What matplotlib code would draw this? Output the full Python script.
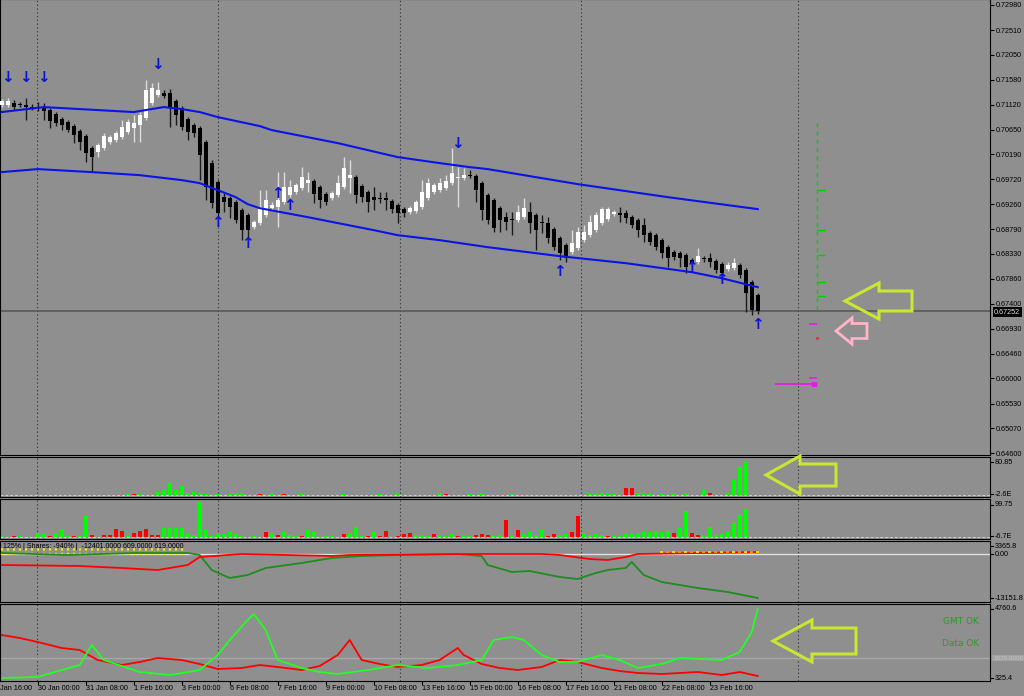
import numpy as np
import matplotlib
matplotlib.use('Agg')
import matplotlib.pyplot as plt
import matplotlib.transforms as mtransforms
from matplotlib.patches import Polygon

plt.rcParams['font.family'] = ['Liberation Sans', 'DejaVu Sans']

W, H = 1024, 696
BG = '#8f8f8f'

# ---- candles (AUDUSD-like, H4) ----
opens = [0.71110, 0.71110, 0.71147, 0.71128, 0.71110, 0.71072, 0.71072, 0.71053, 0.71016, 0.70941,
         0.70848, 0.70792, 0.70717, 0.70623, 0.70530, 0.70305, 0.70231, 0.70305, 0.70418, 0.70455,
         0.70511, 0.70605, 0.70679, 0.70735, 0.70866, 0.71147, 0.71297, 0.71334, 0.71334, 0.71184,
         0.71053, 0.70848, 0.70735, 0.70679, 0.70418, 0.70025, 0.69670, 0.69389, 0.69370, 0.69296,
         0.69146, 0.69052, 0.68828, 0.68903, 0.69052, 0.69183, 0.69202, 0.69296, 0.69426, 0.69483,
         0.69557, 0.69651, 0.69688, 0.69576, 0.69445, 0.69370, 0.69426, 0.69576, 0.69744, 0.69763,
         0.69595, 0.69483, 0.69389, 0.69370, 0.69370, 0.69314, 0.69239, 0.69165, 0.69109, 0.69127,
         0.69202, 0.69370, 0.69483, 0.69520, 0.69557, 0.69651, 0.69744, 0.69744, 0.69800, 0.69782,
         0.69651, 0.69426, 0.69333, 0.69183, 0.69015, 0.68978, 0.68959, 0.69015, 0.69109, 0.69052,
         0.68922, 0.68903, 0.68791, 0.68622, 0.68491, 0.68361, 0.68435, 0.68585, 0.68678, 0.68772,
         0.68903, 0.68978, 0.69071, 0.69090, 0.69090, 0.69015, 0.68959, 0.68865, 0.68716, 0.68678,
         0.68585, 0.68454, 0.68361, 0.68342, 0.68304, 0.68211, 0.68174, 0.68248, 0.68248, 0.68192,
         0.68136, 0.68043, 0.68061, 0.68118, 0.68024, 0.67799, 0.67556]
highs = [0.71222, 0.71240, 0.71203, 0.71166, 0.71240, 0.71128, 0.71166, 0.71147, 0.71053, 0.70979,
         0.70885, 0.70829, 0.70754, 0.70661, 0.70567, 0.70343, 0.70399, 0.70586, 0.70548, 0.70623,
         0.70829, 0.70848, 0.70922, 0.70979, 0.71577, 0.71521, 0.71539, 0.71390, 0.71409, 0.71222,
         0.71091, 0.70885, 0.70773, 0.70717, 0.70455, 0.70081, 0.69707, 0.69464, 0.69408, 0.69333,
         0.69183, 0.69090, 0.68959, 0.69520, 0.69520, 0.69296, 0.69857, 0.69857, 0.69707, 0.69651,
         0.69950, 0.69857, 0.69726, 0.69613, 0.69483, 0.69501, 0.69800, 0.70137, 0.70081, 0.69800,
         0.69632, 0.69520, 0.69576, 0.69483, 0.69483, 0.69352, 0.69277, 0.69202, 0.69221, 0.69333,
         0.69707, 0.69744, 0.69651, 0.69744, 0.69800, 0.70305, 0.69950, 0.69931, 0.69894, 0.69819,
         0.69688, 0.69464, 0.69370, 0.69221, 0.69109, 0.69109, 0.69239, 0.69370, 0.69296, 0.69090,
         0.69052, 0.69015, 0.68828, 0.68660, 0.68529, 0.68772, 0.68828, 0.68865, 0.69052, 0.69109,
         0.69202, 0.69202, 0.69146, 0.69202, 0.69146, 0.69052, 0.68996, 0.68996, 0.68753, 0.68716,
         0.68622, 0.68491, 0.68398, 0.68379, 0.68342, 0.68248, 0.68435, 0.68286, 0.68342, 0.68230,
         0.68174, 0.68174, 0.68248, 0.68155, 0.68061, 0.67837, 0.67594]
lows = [0.71072, 0.71072, 0.71016, 0.71072, 0.70829, 0.71016, 0.70997, 0.70829, 0.70679, 0.70717,
        0.70642, 0.70605, 0.70399, 0.70268, 0.70044, 0.69857, 0.70137, 0.70268, 0.70380, 0.70418,
        0.70474, 0.70567, 0.70418, 0.70418, 0.70829, 0.71110, 0.71260, 0.71240, 0.70698, 0.70735,
        0.70642, 0.70455, 0.70511, 0.69707, 0.69333, 0.69183, 0.69034, 0.69109, 0.68996, 0.68903,
        0.68585, 0.68622, 0.68791, 0.68865, 0.69015, 0.69146, 0.68828, 0.69258, 0.69389, 0.69445,
        0.69520, 0.69483, 0.69277, 0.69183, 0.69239, 0.69333, 0.69389, 0.69539, 0.69464, 0.69277,
        0.69296, 0.69109, 0.69146, 0.69277, 0.69146, 0.69090, 0.68903, 0.69015, 0.69071, 0.69090,
        0.69165, 0.69333, 0.69445, 0.69483, 0.69520, 0.69613, 0.69202, 0.69707, 0.69744, 0.69296,
        0.68959, 0.68884, 0.68735, 0.68735, 0.68772, 0.68678, 0.68922, 0.68978, 0.68716, 0.68398,
        0.68716, 0.68529, 0.68398, 0.68211, 0.68174, 0.68323, 0.68398, 0.68548, 0.68641, 0.68735,
        0.68865, 0.68940, 0.69034, 0.68922, 0.68903, 0.68809, 0.68641, 0.68548, 0.68491, 0.68398,
        0.68248, 0.68080, 0.68211, 0.68080, 0.67968, 0.68099, 0.68136, 0.68174, 0.68080, 0.67968,
        0.67837, 0.68005, 0.68024, 0.67874, 0.67239, 0.67183, 0.67201]
closes = [0.71184, 0.71184, 0.71072, 0.71110, 0.71072, 0.71063, 0.71053, 0.70997, 0.70810, 0.70773,
          0.70735, 0.70642, 0.70548, 0.70418, 0.70212, 0.70137, 0.70361, 0.70530, 0.70511, 0.70586,
          0.70698, 0.70792, 0.70773, 0.70922, 0.71390, 0.71427, 0.71390, 0.71278, 0.71072, 0.70922,
          0.70698, 0.70605, 0.70586, 0.70174, 0.69576, 0.69277, 0.69090, 0.69296, 0.69202, 0.68959,
          0.68772, 0.68772, 0.68922, 0.69202, 0.69333, 0.69239, 0.69333, 0.69576, 0.69576, 0.69613,
          0.69763, 0.69707, 0.69445, 0.69333, 0.69296, 0.69464, 0.69651, 0.69931, 0.69800, 0.69426,
          0.69389, 0.69296, 0.69333, 0.69352, 0.69333, 0.69165, 0.69090, 0.69090, 0.69183, 0.69296,
          0.69483, 0.69651, 0.69613, 0.69651, 0.69688, 0.69838, 0.69750, 0.69800, 0.69791, 0.69520,
          0.69146, 0.68959, 0.68809, 0.68959, 0.68922, 0.68968, 0.69109, 0.69183, 0.68903, 0.68772,
          0.68903, 0.68622, 0.68454, 0.68342, 0.68248, 0.68529, 0.68735, 0.68735, 0.68922, 0.69052,
          0.69165, 0.69165, 0.69109, 0.69052, 0.68996, 0.68865, 0.68772, 0.68678, 0.68548, 0.68454,
          0.68342, 0.68248, 0.68267, 0.68248, 0.68080, 0.68155, 0.68286, 0.68230, 0.68174, 0.68024,
          0.67968, 0.68118, 0.68155, 0.67931, 0.67594, 0.67276, 0.67252]

# envelope bands (bar index, price)
band_up_idx = [0, 7, 22, 27, 30, 33, 36, 43, 45, 56, 66, 73, 78, 81, 96, 111, 126]
band_up = [0.70979, 0.71072, 0.70979, 0.71072, 0.71035, 0.70979, 0.70885, 0.70717, 0.70642,
           0.70399, 0.70137, 0.70025, 0.69950, 0.69913, 0.69632, 0.69389, 0.69165]
band_lo_idx = [0, 6, 15, 23, 30, 33, 36, 39, 41, 43, 51, 62, 66, 73, 81, 93, 104, 115, 120, 126]
band_lo = [0.69857, 0.69913, 0.69857, 0.69800, 0.69707, 0.69651, 0.69520, 0.69389, 0.69258,
           0.69183, 0.69015, 0.68772, 0.68678, 0.68585, 0.68454, 0.68286, 0.68155, 0.67987,
           0.67874, 0.67706]

# signal arrows
dn_idx = [1, 4, 7, 26, 76]
dn_price = [0.71633, 0.71633, 0.71633, 0.71876, 0.70399]
up_idx = [36, 41, 46, 48, 93, 115, 120, 126]
up_price = [0.68922, 0.68529, 0.69464, 0.69239, 0.68005, 0.68080, 0.67856, 0.67014]

price_ticks = [0.72980, 0.72510, 0.72050, 0.71580, 0.71120, 0.70650, 0.70190, 0.69720, 0.69260,
               0.68790, 0.68330, 0.67860, 0.67400, 0.66930, 0.66460, 0.66000, 0.65530, 0.65070,
               0.64600]
last_price = 0.67252

# projected levels right of the last bar
proj_top, proj_bot = 0.70866, 0.67276
proj_ticks = [0.69520, 0.68772, 0.68304, 0.67799, 0.67538]
mag_dash = [0.67014, 0.66004]
mag_line = 0.65892
red_dot = 0.66752

# ---- histogram panes (bar index, value, colour) ----
h1_idx = [21, 22, 23, 26, 27, 28, 29, 30, 31, 32, 33, 34, 36, 38, 39, 40, 43, 45, 47, 50, 57, 63, 66,
          73, 74, 78, 80, 85, 98, 99, 100, 101, 102, 104, 105, 106, 107, 108, 110, 112, 114, 117,
          118, 121, 122, 123, 124]
h1_val = [2.5, 2.5, 2.5, 7.4, 12.3, 29.4, 12.3, 22, 4.9, 7.4, 4.9, 2.5, 1.7, 2.5, 4.9, 3.7, 1.7, 2.5,
          1.7, 1.7, 2.5, 1.7, 2.5, 3.7, 1.7, 1.7, 1.7, 2.5, 2.5, 2.5, 4.9, 2.5, 2.5, 17, 17, 4.9, 2.5,
          2.5, 2.5, 4.9, 2.5, 12.3, 4.9, 4.9, 36.8, 68.6, 80.85]
h1_col = 'grggggggggggggggrgrgggggrggggggggrrgggggggrgggg'

h2_idx = [0, 2, 3, 6, 7, 8, 9, 10, 11, 12, 13, 14, 15, 17, 18, 19, 20, 21, 22, 23, 24, 25, 26, 27,
          28, 29, 30, 31, 32, 33, 34, 35, 36, 37, 38, 39, 40, 42, 44, 45, 46, 47, 48, 49, 50, 51, 52,
          54, 55, 57, 58, 59, 60, 61, 62, 63, 64, 66, 67, 68, 69, 70, 71, 72, 73, 74, 75, 76, 77, 78,
          79, 80, 81, 82, 83, 84, 85, 86, 87, 88, 89, 90, 91, 92, 93, 94, 95, 96, 97, 98, 99, 100,
          101, 102, 103, 104, 105, 106, 107, 108, 109, 110, 111, 112, 113, 114, 115, 116, 117, 118,
          119, 120, 121, 122, 123, 124]
h2_val = [2.9, 2, 2, 11.4, 11.4, 2.9, 11.4, 22.8, 2, 2.9, 2.9, 60, 5.7, 5.7, 5.7, 22.8, 17.1, 2.9,
          11.4, 17.1, 22.8, 5.7, 5.7, 25.7, 25.7, 25.7, 25.7, 11.4, 5.7, 99.75, 20, 2.9, 8.6, 8.6,
          17.1, 8.6, 2.9, 2.9, 14.3, 11.4, 5.7, 14.3, 5.7, 2.9, 2.9, 20, 14.3, 2.9, 2.9, 8.6, 11.4,
          28.5, 2.9, 2.9, 14.3, 2.9, 17.1, 2.9, 8.6, 11.4, 5.7, 5.7, 2.9, 8.6, 5.7, 2.9, 8.6, 2.9,
          5.7, 2.9, 5.7, 8.6, 5.7, 2.9, 5.7, 48.5, 2.9, 20, 8.6, 14.3, 5.7, 20, 2.9, 8.6, 5.7, 8.6,
          14.3, 60, 11.4, 5.7, 8.6, 5.7, 2.9, 2.9, 2.9, 8.6, 8.6, 11.4, 14.3, 14.3, 17.1, 14.3, 17.1,
          11.4, 25.7, 74, 11.4, 5.7, 2.9, 28.5, 5.7, 8.6, 14.3, 40, 62.7, 80]
h2_col = ('grgggrgggrggrrrrrgrrrrrgggggggggggggggrgrgggrggggrgggrgrrrrrgggrgggrggrrrggrgrggggrrggrrgg'
          'ggrggggggggggrggrrggggggg')

# ---- line panes (bar index, value) ----
p3_red_idx = [0, 13, 20, 26, 31, 33, 40, 55, 58, 80, 90, 93, 98, 101, 104, 106, 116, 126]
p3_red = [-3289, -3588, -4186, -4784, -3289, -897, 0, -598, -299, 0, 0, -299, -1495, -1794, -897,
          0, 299, 598]
p3_grn_idx = [0, 11, 22, 31, 33, 35, 38, 41, 44, 50, 55, 60, 66, 76, 80, 81, 85, 88, 93, 96, 99,
              101, 104, 105, 107, 110, 116, 121, 126]
p3_grn = [299, -299, 299, 299, -299, -4784, -7176, -6279, -4186, -2691, -1196, -598, -299, 0,
          -598, -3289, -5382, -5083, -6877, -7475, -5681, -4784, -4186, -2392, -6279, -8372,
          -10166, -11362, -13151.8]

p4_red_idx = [0, 3, 6, 10, 13, 16, 20, 23, 26, 30, 33, 36, 40, 43, 46, 50, 53, 56, 58, 60, 63, 66,
              70, 73, 76, 77, 80, 83, 86, 90, 93, 96, 100, 103, 106, 110, 113, 116, 120, 123, 126]
p4_red = [3090, 2897, 2640, 2254, 2126, 1483, 1161, 1354, 1611, 1483, 1226, 904, 968, 1161, 1033,
          840, 1097, 1804, 2769, 1483, 1226, 1033, 1161, 1483, 2254, 1804, 1226, 968, 840, 1033,
          1483, 1354, 968, 775, 647, 583, 647, 711, 518, 711, 454]
p4_grn_idx = [0, 6, 10, 13, 15, 17, 20, 23, 28, 33, 36, 38, 41, 42, 44, 46, 50, 53, 56, 61, 66, 71,
              76, 80, 82, 85, 87, 90, 93, 96, 100, 103, 106, 110, 113, 116, 120, 123, 125, 126]
p4_grn = [325, 390, 840, 1161, 2447, 1483, 1097, 711, 518, 840, 1804, 2769, 4055, 4441, 3412, 1483,
          968, 711, 583, 840, 1161, 968, 1161, 1483, 2769, 2962, 2769, 1804, 1354, 1354, 1804,
          1483, 968, 1226, 1611, 1547, 1483, 2000, 3283, 4760.6]
p4_level = 1629.9

grid_idx = [5.9, 36.05, 66.4, 96.55, 132.7]
time_idx = [-2, 6, 14, 22, 30, 38, 46, 54, 62, 70, 78, 86, 94, 102, 110, 118]
time_labels = ['29 Jan 16:00', '30 Jan 00:00', '31 Jan 08:00', '1 Feb 16:00', '3 Feb 00:00',
               '6 Feb 08:00', '7 Feb 16:00', '9 Feb 00:00', '10 Feb 08:00', '13 Feb 16:00',
               '15 Feb 00:00', '16 Feb 08:00', '17 Feb 16:00', '21 Feb 08:00', '22 Feb 08:00',
               '23 Feb 16:00']


def px_rect(x0, y0, x1, y1):
    return [x0 / W, 1 - y1 / H, (x1 - x0) / W, (y1 - y0) / H]


XLIM = ((0 - 1.7) / 6, (990 - 1.7) / 6)


def setup(ax, ylim):
    ax.set_facecolor(BG)
    ax.set_xlim(XLIM)
    ax.set_ylim(ylim)
    for s in ax.spines.values():
        s.set_color('black')
        s.set_linewidth(0.8)
    ax.set_xticks([])
    ax.set_yticks([])
    for gx in grid_idx:
        ax.axvline(gx, color='#3c3c3c', ls=(0, (1.2, 2.2)), lw=0.8, zorder=0)


fig = plt.figure(figsize=(W / 100, H / 100), dpi=100)
fig.patch.set_facecolor(BG)

# ---- main pane ----
ax = fig.add_axes(px_rect(0, -1, 990, 455))
setup(ax, (0.645695, 0.730921))
o, hi, lo, c = map(np.array, (opens, highs, lows, closes))
idx = np.arange(len(o))
bull = c >= o
ax.vlines(idx[bull], lo[bull], hi[bull], color='#dcdcdc', lw=1, zorder=2)
ax.vlines(idx[~bull], lo[~bull], hi[~bull], color='#1a1a1a', lw=1, zorder=2)
body_lo = np.minimum(o, c)
body_h = np.maximum(np.abs(c - o), 0.00014)
ax.bar(idx[bull], body_h[bull], bottom=body_lo[bull], width=0.66, color='white', lw=0, zorder=3)
ax.bar(idx[~bull], body_h[~bull], bottom=body_lo[~bull], width=0.66, color='black', lw=0, zorder=3)

ax.plot(band_up_idx, band_up, color='#0a14e6', lw=1.5, zorder=4)
ax.plot(band_lo_idx, band_lo, color='#0a14e6', lw=1.5, zorder=4)
for i, p in zip(dn_idx, dn_price):
    ax.text(i, p, '\u2193', color='#0a14d2', fontsize=11, fontweight='bold', ha='center', va='center',
            family='DejaVu Sans', zorder=5)
for i, p in zip(up_idx, up_price):
    ax.text(i, p, '\u2191', color='#0a14d2', fontsize=11, fontweight='bold', ha='center', va='center',
            family='DejaVu Sans', zorder=5)

ax.axhline(last_price, color='#555555', lw=1.1, zorder=1)

# projected levels
ax.vlines(135.9, proj_bot, proj_top, color='#00d000', lw=1.0, ls=(0, (3, 3)))
ax.hlines(proj_ticks, 135.9, 137.2, color='#00d000', lw=1.0)
ax.hlines(mag_dash, 134.6, 135.9, color='#e020e0', lw=1.2)
ax.hlines(mag_line, 128.9, 135.9, color='#e020e0', lw=1.3)
ax.hlines(mag_line, 134.9, 135.9, color='#e020e0', lw=3.5)
ax.plot([135.9], [red_dot], 's', color='#d04040', ms=1.2)

ax.yaxis.tick_right()
ax.set_yticks(price_ticks)
ax.set_yticklabels(['%.5f' % v for v in price_ticks])
ax.tick_params(axis='y', direction='out', length=3, width=0.8, pad=1.5, labelsize=5.2,
               colors='black')

# ---- pane 1 ----
ax1 = fig.add_axes(px_rect(0, 457, 990, 497))
setup(ax1, (-4.9, 93.1))
ax1.axhline(0, color='#d0d0d0', lw=0.7, ls=(0, (3, 2)))
ax1.bar(h1_idx, h1_val, width=0.66, lw=0,
        color=['#00ff00' if k == 'g' else '#ff0000' for k in h1_col])

# ---- pane 2 ----
ax2 = fig.add_axes(px_rect(0, 499, 990, 539))
setup(ax2, (-5.7, 108.3))
ax2.axhline(0, color='#d0d0d0', lw=0.7, ls=(0, (3, 2)))
ax2.bar(h2_idx, h2_val, width=0.66, lw=0,
        color=['#00ff00' if k == 'g' else '#ff0000' for k in h2_col])

# ---- pane 3 ----
ax3 = fig.add_axes(px_rect(0, 541, 990, 602))
setup(ax3, (-14352, 3887))
ax3.axhline(0, color='#e0e0e0', lw=1.0)
ax3.vlines(np.arange(0, 31), -299, 2093, color='#f0f000', lw=1.6, ls=(0, (1, 1)), zorder=3)
ax3.plot(p3_grn_idx, p3_grn, color='#1e8c1e', lw=1.3, zorder=4)
ax3.plot(p3_red_idx, p3_red, color='#ff0000', lw=1.3, zorder=4)
dots = np.arange(110, 127)
ax3.scatter(dots, np.full(len(dots), 600), s=3, marker='s', lw=0,
            c=['#ff8c00' if k % 2 else '#ffd000' for k in dots], zorder=5)
ax3.text(0.2, 1 - 6 / 61, '125% | Shares: -940% |  -12401.0000 609.0000 619.0000',
         transform=mtransforms.blended_transform_factory(ax3.transData, ax3.transAxes),
         fontsize=5, color='black', va='center', ha='left', zorder=6)

# ---- pane 4 ----
ax4 = fig.add_axes(px_rect(0, 604, 990, 681))
setup(ax4, (132.5, 5083.6))
ax4.axhline(p4_level, color='#a8a8a8', lw=1.0)
ax4.plot(p4_red_idx, p4_red, color='#ff0000', lw=1.3)
ax4.plot(p4_grn_idx, p4_grn, color='#22ff22', lw=1.3)
ax4.text(0.989, 1 - 18 / 77, 'GMT OK', transform=ax4.transAxes, color='#2a9a2a', fontsize=6.5,
         ha='right', va='center', family='DejaVu Sans')
ax4.text(0.989, 1 - 39 / 77, 'Data OK', transform=ax4.transAxes, color='#2a9a2a', fontsize=6.5,
         ha='right', va='center', family='DejaVu Sans')
ax4.set_xticks([t for t in time_idx if t >= XLIM[0]])
ax4.tick_params(axis='x', direction='out', length=3, width=0.8, labelbottom=False)
tb = mtransforms.blended_transform_factory(ax4.transData, ax4.transAxes)
for t, lab in zip(time_idx, time_labels):
    ax4.text(t, -4 / 77, lab, transform=tb, fontsize=5.2, ha='left', va='top', clip_on=False)

# ---- overlay: right-hand labels and outline arrows ----
ov = fig.add_axes([0, 0, 1, 1])
ov.set_xlim(0, W)
ov.set_ylim(H, 0)
ov.axis('off')
ov.patch.set_alpha(0)
ov.set_zorder(10)

sub_labels = [(462, '80.85'), (494, '-2.6E'), (505, '99.75'), (536, '-6.7E'), (546, '3365.8'),
              (554, '0.00'), (598, '-13151.8'), (609, '4760.6'), (678, '325.4')]
for yy, s in sub_labels:
    ov.plot([990, 993], [yy, yy], color='black', lw=0.8)
    ov.text(995, yy, s, fontsize=5.2, ha='left', va='center', color='black')
ov.text(993, 658, '1629.9000', fontsize=4.6, ha='left', va='center', color='#c4c4c4',
        bbox=dict(boxstyle='square,pad=0.15', fc='#a2a2a2', ec='none'))
ov.text(994, 312, '%.5f' % last_price, fontsize=5.2, ha='left', va='center', color='#e0e0e0',
        bbox=dict(boxstyle='square,pad=0.2', fc='black', ec='none'))


def left_arrow(tip_x, tip_y, head_x, tail_x, half_h, half_t, color, lw):
    pts = [(tip_x, tip_y), (head_x, tip_y - half_h), (head_x, tip_y - half_t),
           (tail_x, tip_y - half_t), (tail_x, tip_y + half_t), (head_x, tip_y + half_t),
           (head_x, tip_y + half_h)]
    ov.add_patch(Polygon(pts, closed=True, fill=False, ec=color, lw=lw, joinstyle='miter'))


YG = '#c8e632'
left_arrow(845, 301, 879, 912, 18, 10, YG, 2.2)
left_arrow(836, 331, 852, 867, 13, 7.5, '#ffb4c8', 2.0)
left_arrow(766, 475, 800, 836, 19, 11, YG, 2.2)
left_arrow(773, 641, 812, 856, 21, 13, YG, 2.2)

fig.savefig('out.png', dpi=100, facecolor=BG)
